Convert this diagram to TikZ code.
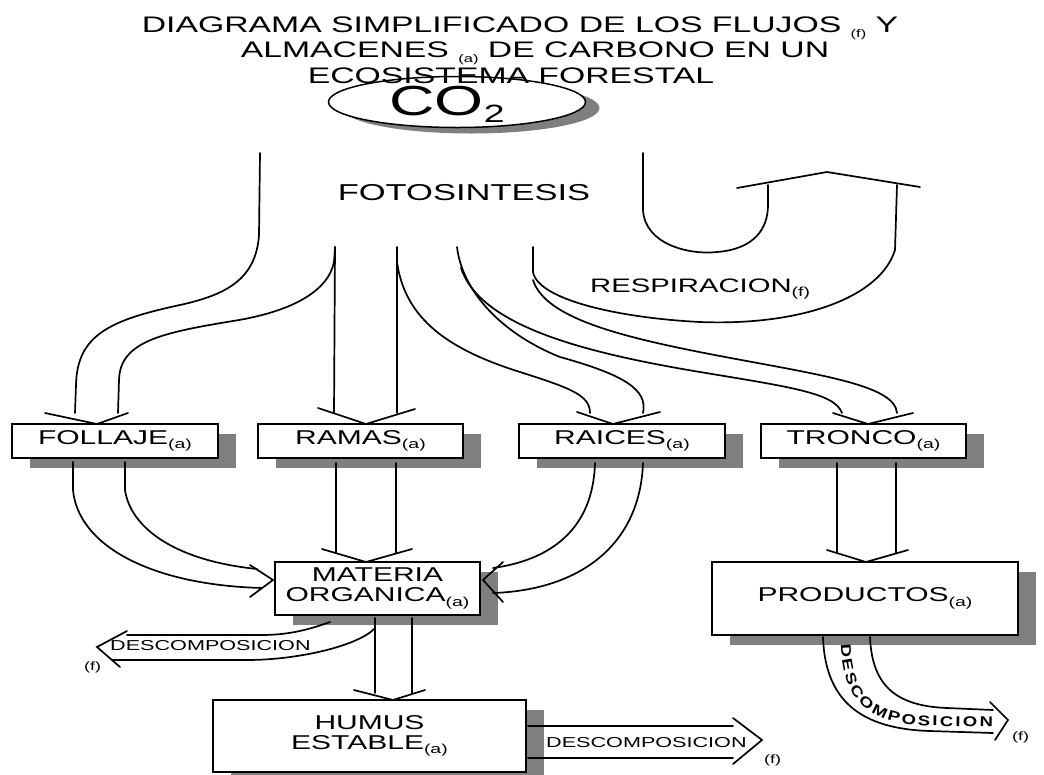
\documentclass[tikz,border=0pt]{standalone}
\usepackage{fontspec}
\setmainfont[FakeStretch=1.5]{Liberation Sans}
\newfontfamily\curvefont[FakeStretch=1.3]{Liberation Sans}
\usetikzlibrary{shapes.geometric,shadows,decorations.text}
\definecolor{shadowc}{HTML}{7F7F7F}
\newcommand{\fsz}[1]{\fontsize{#1}{#1}\selectfont}
\newcommand{\lowsub}[1]{\raisebox{-4.5pt}{\fsz{13}#1}}
\newcommand{\titlesub}[1]{\raisebox{-5pt}{\fsz{11}#1}}
\newcommand{\curvedesc}{\curvefont\bfseries\fsz{14.2}}
\begin{document}
\begin{tikzpicture}[x=1pt,y=-1pt,
  flow/.style={line width=1.7pt,line cap=round,line join=round},
  head/.style={line width=1.7pt,line cap=round,line join=miter},
  box/.style={draw,line width=1.8pt,fill=white,inner sep=0pt,align=center,font={\fsz{20}},
     drop shadow={shadow xshift=18pt,shadow yshift=-10pt,fill=shadowc,opacity=1}},
  lbl/.style={inner sep=0pt},
]
\useasboundingbox (0,0) rectangle (1044,774);
\fill[white] (0,0) rectangle (1044,774);

% CO2 ellipse
\node[ellipse,draw,line width=1.5pt,fill=white,minimum width=257pt,minimum height=51pt,inner sep=0pt,
  drop shadow={shadow xshift=14pt,shadow yshift=-6pt,fill=shadowc,opacity=1}] (co2) at (457,102) {};
\node[lbl,anchor=base] (co2t) at (447,115) {\fsz{42}CO\raisebox{-7pt}{\fsz{25}2}};

% title
\node[lbl,anchor=base,font={\fsz{22.5}}] (t1) at (520,32) {DIAGRAMA SIMPLIFICADO DE LOS FLUJOS \titlesub{(f)} Y};
\node[lbl,anchor=base,font={\fsz{22.5}}] (t2) at (535,57.5) {ALMACENES \titlesub{(a)} DE CARBONO EN UN};
\node[lbl,anchor=base,font={\fsz{22.5}}] (t3) at (511,83) {ECOSISTEMA FORESTAL};

% labels of flows
\node[lbl,anchor=base,font={\fsz{23}}] (foto) at (464,200) {FOTOSINTESIS};
\node[lbl,anchor=base west,font={\fsz{19.5}}] (resp) at (590,292) {RESPIRACION\lowsub{(f)}};

% boxes
\node[box,minimum width=206pt,minimum height=34pt] (fol) at (115,441) {FOLLAJE\lowsub{(a)}};
\node[box,minimum width=205pt,minimum height=34pt] (ram) at (360.5,441) {RAMAS\lowsub{(a)}};
\node[box,minimum width=206pt,minimum height=34pt] (rai) at (622,441) {RAICES\lowsub{(a)}};
\node[box,minimum width=205pt,minimum height=34pt] (tro) at (863.5,441) {TRONCO\lowsub{(a)}};
\node[box,minimum width=205pt,minimum height=53pt] (mat) at (377.5,588.5) {MATERIA\\ORGANICA\lowsub{(a)}};
\node[box,minimum width=306pt,minimum height=73pt] (pro) at (865,598.5) {PRODUCTOS\lowsub{(a)}};
\node[box,minimum width=313pt,minimum height=72pt] (hum) at (369.5,736) {HUMUS\\ESTABLE\lowsub{(a)}};

% ---- photosynthesis streams ----
% follaje
\draw[flow] (260,153) -- (259,235) .. controls (256,280) and (225,295) .. (180,305)
  .. controls (110,320) and (77,335) .. (76,385) -- (75,413);
\draw[flow] (335,247) -- (334,262) .. controls (328,292) and (290,312) .. (233,321)
  .. controls (160,333) and (120,342) .. (119,380) -- (118,413);
\draw[head] (45,413) -- (97,424) -- (128,413);
% ramas
\draw[flow] (335,247) -- (334,413);
\draw[flow] (397,247) -- (397,413);
\draw[head] (318,408) -- (366,424) -- (415,409);
% raices
\draw[flow] (397,262) .. controls (405,320) and (450,350) .. (520,372)
  .. controls (570,388) and (590,395) .. (590,413);
\draw[flow] (457,247) .. controls (462,290) and (500,333) .. (560,357)
  .. controls (625,375) and (648,390) .. (643,413);
\draw[head] (577,412) -- (613,424) -- (660,412);
% tronco
\draw[flow] (461,268) .. controls (480,325) and (580,352) .. (700,372)
  .. controls (790,387) and (835,393) .. (842,413);
\draw[flow] (533,280) .. controls (545,318) and (620,337) .. (720,356)
  .. controls (820,375) and (895,385) .. (897,413);
\draw[head] (833,413) -- (868,424) -- (913,413);
% respiracion
\draw[flow] (533,247) -- (533,272) .. controls (538,300) and (620,318) .. (700,322)
  .. controls (800,326) and (880,298) .. (895,250) -- (897,185);
\draw[flow] (643,153) -- (643,210) .. controls (645,245) and (690,255) .. (717,252)
  .. controls (755,249) and (768,228) .. (768,205) -- (768,185);
\draw[head] (737,188) -- (827,172) -- (920,187);

% ---- to materia organica ----
\draw[flow] (73,462) -- (73,490) .. controls (78,545) and (150,585) .. (262,588);
\draw[flow] (125,462) -- (125,490) .. controls (130,525) and (170,560) .. (257,569);
\draw[head] (250,565) -- (273,580) -- (250,597);
\draw[flow] (336,463) -- (336,553);
\draw[flow] (396,463) -- (396,553);
\draw[head] (322,549) -- (366,562) -- (412,549);
\draw[flow] (595,463) .. controls (593,530) and (550,560) .. (493,568);
\draw[flow] (643,463) .. controls (640,545) and (580,590) .. (493,593);
\draw[head] (503,562) -- (483,580) -- (503,602);

% ---- tronco to productos ----
\draw[flow] (837,463) -- (837,553);
\draw[flow] (896,463) -- (896,553);
\draw[head] (827,550) -- (866,562) -- (908,550);

% ---- materia to humus ----
\draw[flow] (375,618) -- (375,693);
\draw[flow] (412,618) -- (412,693);
\draw[head] (354,690) -- (393,700) -- (425,690);

% ---- descomposicion from materia ----
\draw[flow] (330,622) .. controls (300,633) and (280,635) .. (260,635) -- (127,635);
\draw[flow] (375,628) .. controls (360,645) and (300,660) .. (247,660) -- (112,660);
\draw[head] (127,631) -- (97,647) -- (120,667);
\node[lbl,anchor=base west,font={\fsz{14.4}}] (d1) at (110,650) {DESCOMPOSICION};
\node[lbl,anchor=base west,font={\fsz{12}}] (f1) at (84,670) {(f)};

% ---- descomposicion from humus ----
\draw[flow] (528,726) -- (733,726);
\draw[flow] (528,758) -- (733,758);
\draw[head] (733,718) -- (762,740) -- (733,764);
\node[lbl,anchor=base west,font={\fsz{14.4}}] (d2) at (546,747) {DESCOMPOSICION};
\node[lbl,anchor=base west,font={\fsz{12}}] (f2) at (764,763) {(f)};

% ---- descomposicion from productos ----
\draw[flow] (823,637) .. controls (825,700) and (860,729) .. (930,731) -- (993,733);
\draw[flow] (870,637) .. controls (872,685) and (895,706) .. (947,708) -- (993,710);
\draw[head] (990,702) -- (1008,720) -- (995,740);
\path[decorate,decoration={text along path,text={|\curvedesc|DESCOMPOSICION},text align=fit to path}]
  (841,644) .. controls (842,704) and (872,725) .. (934,726) -- (993,727);
\node[lbl,anchor=base west,font={\fsz{12}}] (f3) at (1012,740) {(f)};
\end{tikzpicture}
\end{document}
